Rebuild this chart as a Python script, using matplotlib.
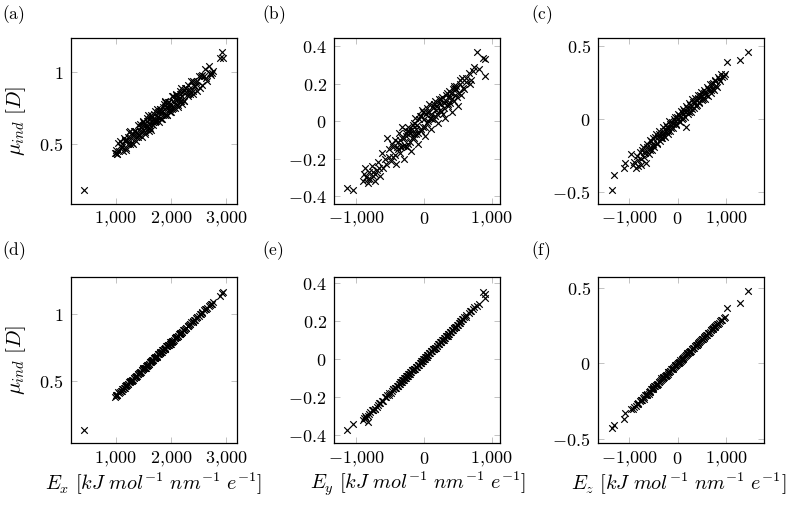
import matplotlib
matplotlib.use('Agg')
import matplotlib.pyplot as plt
from matplotlib.ticker import FixedLocator, FixedFormatter

plt.rcParams['mathtext.fontset'] = 'cm'
plt.rcParams['font.family'] = 'serif'
plt.rcParams['font.size'] = 13

# field components (shared by the top and bottom row)
E_x = [430,
       985, 1000, 1005, 1020, 1045, 1060, 1090, 1110, 1135, 1150,
       1170, 1185, 1205, 1220, 1240, 1255, 1275, 1290, 1310, 1325,
       1345, 1360, 1380, 1395, 1410, 1430, 1445, 1460, 1480, 1495,
       1510, 1525, 1540, 1555, 1570, 1585, 1600, 1615, 1630, 1645,
       1660, 1675, 1690, 1705, 1720, 1735, 1750, 1765, 1780, 1795,
       1810, 1825, 1840, 1855, 1870, 1885, 1900, 1915, 1930, 1945,
       1960, 1975, 1990, 2005, 2020, 2035, 2050, 2065, 2080, 2095,
       2110, 2125, 2140, 2155, 2170, 2185, 2200, 2220, 2240, 2260,
       2280, 2300, 2320, 2345, 2370, 2395, 2420, 2450, 2480, 2510,
       2540, 2570, 2600, 2640, 2680, 2720, 2760, 2880, 2920, 2945,
       1030, 1075, 1120, 1160, 1195, 1230, 1265, 1300, 1335, 1370,
       1405, 1440, 1470, 1500, 1530, 1560, 1590, 1620, 1650, 1680,
       1710, 1740, 1770, 1800, 1830, 1860, 1890, 1920, 1950, 1980,
       2010, 2040, 2070, 2100, 2130, 2160, 2190, 2230, 2270, 2310,
       2350, 2390, 2430, 2470, 2520, 2560, 2620, 2660, 2700, 2740,
       1500, 1600, 1700, 1800, 1900, 2000, 2100, 2200, 2300, 2400]

# (a) mu_ind, top model
mu_a = [0.183,
        0.44, 0.44, 0.46, 0.43, 0.51, 0.45, 0.48, 0.50, 0.45, 0.54,
        0.53, 0.47, 0.53, 0.50, 0.58, 0.50, 0.54, 0.56, 0.50, 0.59,
        0.59, 0.52, 0.58, 0.56, 0.63, 0.56, 0.59, 0.62, 0.55, 0.65,
        0.64, 0.58, 0.63, 0.61, 0.68, 0.61, 0.64, 0.67, 0.60, 0.70,
        0.69, 0.63, 0.68, 0.66, 0.73, 0.66, 0.69, 0.72, 0.65, 0.74,
        0.74, 0.67, 0.73, 0.70, 0.78, 0.70, 0.74, 0.76, 0.70, 0.79,
        0.79, 0.72, 0.78, 0.75, 0.83, 0.75, 0.79, 0.81, 0.75, 0.84,
        0.84, 0.77, 0.82, 0.80, 0.87, 0.80, 0.83, 0.86, 0.80, 0.89,
        0.89, 0.83, 0.88, 0.86, 0.94, 0.87, 0.90, 0.93, 0.87, 0.97,
        0.97, 0.91, 0.97, 0.96, 1.04, 0.98, 1.01, 1.10, 1.14, 1.10,
        0.43, 0.52, 0.48, 0.52, 0.46, 0.55, 0.59, 0.51, 0.56, 0.55,
        0.55, 0.64, 0.59, 0.63, 0.57, 0.66, 0.70, 0.61, 0.66, 0.65,
        0.65, 0.74, 0.69, 0.73, 0.67, 0.76, 0.80, 0.70, 0.75, 0.74,
        0.74, 0.83, 0.78, 0.82, 0.76, 0.85, 0.89, 0.80, 0.86, 0.85,
        0.85, 0.94, 0.90, 0.94, 0.89, 0.98, 1.02, 0.94, 0.99, 0.99,
        0.66, 0.59, 0.71, 0.68, 0.79, 0.72, 0.85, 0.78, 0.91, 0.85]

# (d) mu_ind, bottom model
mu_d = [0.133,
        0.38, 0.39, 0.40, 0.40, 0.42, 0.41, 0.43, 0.43, 0.44, 0.45,
        0.46, 0.46, 0.47, 0.48, 0.49, 0.49, 0.50, 0.50, 0.51, 0.52,
        0.53, 0.53, 0.54, 0.55, 0.55, 0.56, 0.57, 0.57, 0.58, 0.59,
        0.60, 0.60, 0.60, 0.61, 0.62, 0.62, 0.63, 0.64, 0.64, 0.65,
        0.66, 0.66, 0.67, 0.67, 0.68, 0.68, 0.69, 0.70, 0.70, 0.71,
        0.71, 0.72, 0.73, 0.73, 0.74, 0.74, 0.75, 0.76, 0.76, 0.77,
        0.77, 0.78, 0.79, 0.79, 0.80, 0.80, 0.81, 0.82, 0.82, 0.83,
        0.83, 0.84, 0.85, 0.85, 0.86, 0.86, 0.87, 0.88, 0.88, 0.89,
        0.90, 0.91, 0.92, 0.93, 0.94, 0.94, 0.96, 0.97, 0.98, 0.99,
        1.00, 1.02, 1.03, 1.04, 1.06, 1.08, 1.09, 1.14, 1.16, 1.17,
        0.40, 0.42, 0.44, 0.45, 0.47, 0.48, 0.50, 0.51, 0.52, 0.54,
        0.55, 0.56, 0.58, 0.59, 0.60, 0.61, 0.62, 0.64, 0.65, 0.66,
        0.67, 0.68, 0.70, 0.71, 0.72, 0.73, 0.74, 0.76, 0.77, 0.78,
        0.79, 0.80, 0.82, 0.83, 0.84, 0.85, 0.86, 0.88, 0.90, 0.91,
        0.93, 0.94, 0.96, 0.98, 1.00, 1.01, 1.04, 1.05, 1.07, 1.08,
        0.60, 0.63, 0.67, 0.72, 0.75, 0.78, 0.83, 0.87, 0.91, 0.95]

E_y = [-1130, -1050, -900, -870, -850, -830, -810, -790, -770, -750,
       -730, -700, -680, -650, -620, -600, -570, -540, -510, -490,
       -470, -450, -430, -410, -390, -370, -350, -330, -310, -290,
       -270, -250, -230, -210, -190, -170, -150, -130, -110, -90,
       -70, -50, -30, -10, 10, 30, 50, 70, 90, 110,
       130, 150, 170, 190, 210, 230, 250, 270, 290, 310,
       330, 350, 370, 390, 410, 430, 450, 470, 490, 510,
       530, 550, 570, 600, 630, 660, 700, 740, 790, 820,
       880, 900, 905,
       -300, -200, -100, 0, 100, 200, 300, -250, -150, -50,
       50, 150, 250, 350, 400, 450, -350, -400,
       -880, -820, -760, -720, -660, -560, -520, -460, -420, -380,
       -340, -320, -280, -260, -240, -220, -180, -160, -140, -120,
       -80, -60, -40, -20, 20, 40, 60, 80, 120, 140,
       160, 180, 220, 240, 260, 280, 320, 340, 360, 380,
       420, 440, 460, 480, 520, 540, 580, 620, 680, 720]

mu_b = [-0.355, -0.365, -0.32, -0.25, -0.30, -0.33, -0.27, -0.31, -0.24, -0.29,
        -0.32, -0.26, -0.22, -0.29, -0.17, -0.25, -0.20, -0.09, -0.15, -0.21,
        -0.12, -0.19, -0.10, -0.23, -0.15, -0.06, -0.17, -0.03, -0.13, -0.20,
        -0.08, -0.14, -0.03, -0.11, -0.16, -0.04, -0.09, 0.02, -0.07, -0.12,
        0.01, -0.05, 0.06, -0.03, -0.08, 0.04, -0.01, 0.09, 0.02, -0.04,
        0.07, 0.01, 0.11, 0.04, -0.01, 0.10, 0.05, 0.13, 0.07, 0.02,
        0.14, 0.08, 0.16, 0.10, 0.05, 0.17, 0.11, 0.19, 0.13, 0.08,
        0.20, 0.14, 0.23, 0.17, 0.21, 0.26, 0.22, 0.29, 0.37, 0.28,
        0.34, 0.33, 0.24,
        -0.09, -0.06, -0.02, 0.01, 0.04, 0.08, 0.10, -0.05, -0.01, 0.03,
        0.05, 0.09, 0.12, 0.13, 0.15, 0.18, -0.10, -0.14,
        -0.28, -0.31, -0.27, -0.28, -0.25, -0.23, -0.19, -0.14, -0.18, -0.11,
        -0.14, -0.09, -0.13, -0.06, -0.12, -0.05, -0.09, -0.02, -0.07, -0.04,
        -0.06, 0.03, -0.04, 0.05, -0.03, 0.07, 0.00, 0.05, 0.01, 0.08,
        0.03, 0.06, 0.12, 0.06, 0.09, 0.04, 0.11, 0.15, 0.09, 0.13,
        0.12, 0.19, 0.14, 0.17, 0.15, 0.22, 0.18, 0.23, 0.20, 0.27]

mu_e = [-0.37, -0.34, -0.32, -0.30, -0.31, -0.33, -0.29, -0.28, -0.27, -0.27,
        -0.26, -0.25, -0.24, -0.23, -0.22, -0.22, -0.20, -0.19, -0.18, -0.18,
        -0.17, -0.16, -0.15, -0.15, -0.14, -0.13, -0.13, -0.12, -0.11, -0.10,
        -0.10, -0.09, -0.08, -0.08, -0.07, -0.06, -0.05, -0.05, -0.04, -0.03,
        -0.03, -0.02, -0.01, 0.00, 0.00, 0.01, 0.02, 0.03, 0.03, 0.04,
        0.05, 0.05, 0.06, 0.07, 0.08, 0.08, 0.09, 0.10, 0.10, 0.11,
        0.12, 0.13, 0.13, 0.14, 0.15, 0.15, 0.16, 0.17, 0.18, 0.18,
        0.19, 0.20, 0.21, 0.22, 0.23, 0.24, 0.25, 0.27, 0.28, 0.29,
        0.35, 0.34, 0.32,
        -0.11, -0.07, -0.04, 0.00, 0.04, 0.07, 0.11, -0.09, -0.05, -0.02,
        0.02, 0.05, 0.09, 0.12, 0.14, 0.16, -0.12, -0.14,
        -0.31, -0.30, -0.27, -0.26, -0.23, -0.20, -0.19, -0.16, -0.15, -0.14,
        -0.12, -0.11, -0.10, -0.09, -0.09, -0.08, -0.06, -0.06, -0.05, -0.04,
        -0.03, -0.02, -0.01, -0.01, 0.01, 0.01, 0.02, 0.03, 0.04, 0.05,
        0.06, 0.06, 0.08, 0.09, 0.09, 0.10, 0.12, 0.12, 0.13, 0.14,
        0.15, 0.16, 0.17, 0.17, 0.19, 0.20, 0.21, 0.22, 0.25, 0.26]

E_z = [-1360, -1310, -1100, -1090, -960, -900, -870, -840, -810, -780,
       -750, -720, -690, -660, -630, -600, -570, -540, -510, -480,
       -450, -420, -390, -360, -330, -300, -270, -240, -210, -180,
       -150, -120, -90, -60, -30, 0, 30, 60, 90, 120,
       150, 180, 210, 240, 270, 300, 330, 360, 390, 420,
       450, 480, 510, 540, 570, 600, 630, 660, 690, 720,
       750, 780, 810, 850, 900, 950, 1020, 1280, 1450,
       -700, -500, -400, -350, -250, -200, -100, -50, 50, 100,
       200, 250, 350, 400, 500, 550, 650, -600, -300, 0,
       -930, -820, -760, -730, -670, -640, -580, -550, -520, -460,
       -430, -380, -340, -310, -280, -230, -190, -160, -130, -80,
       -40, -20, 20, 40, 80, 110, 140, 170, 190, 230,
       260, 290, 320, 370, 410, 440, 470, 520, 560, 590,
       620, 680, 710, 740, 770, 800, 830, 870, 920, 980]

mu_c = [-0.48, -0.38, -0.33, -0.30, -0.24, -0.29, -0.33, -0.25, -0.32, -0.22,
        -0.31, -0.19, -0.26, -0.30, -0.17, -0.24, -0.14, -0.21, -0.13, -0.19,
        -0.10, -0.17, -0.08, -0.15, -0.13, -0.05, -0.12, -0.04, -0.10, -0.01,
        -0.08, -0.02, -0.06, 0.02, -0.04, 0.04, -0.01, 0.06, 0.00, 0.07,
        0.02, 0.09, 0.04, 0.11, 0.05, 0.14, 0.08, 0.15, 0.10, 0.17,
        0.11, 0.19, 0.13, 0.20, 0.14, 0.22, 0.16, 0.24, 0.18, 0.25,
        0.20, 0.26, 0.22, 0.28, 0.31, 0.30, 0.395, 0.41, 0.46,
        -0.22, -0.17, -0.12, -0.11, -0.08, -0.06, -0.03, -0.01, 0.02, 0.04,
        0.06, 0.08, 0.12, 0.13, 0.16, 0.18, 0.20, -0.20, -0.09, 0.00,
        -0.31, -0.28, -0.27, -0.21, -0.23, -0.19, -0.21, -0.15, -0.18, -0.12,
        -0.16, -0.10, -0.13, -0.08, -0.11, -0.05, -0.08, -0.03, -0.06, 0.00,
        -0.03, 0.02, 0.03, -0.02, 0.05, 0.01, 0.06, -0.05, 0.08, 0.05,
        0.10, 0.07, 0.12, 0.09, 0.15, 0.12, 0.17, 0.14, 0.19, 0.17,
        0.21, 0.20, 0.24, 0.21, 0.27, 0.23, 0.29, 0.26, 0.29, 0.31]

mu_f = [-0.43, -0.41, -0.37, -0.33, -0.30, -0.29, -0.28, -0.27, -0.26, -0.25,
        -0.24, -0.23, -0.22, -0.21, -0.20, -0.19, -0.18, -0.17, -0.16, -0.15,
        -0.14, -0.135, -0.125, -0.115, -0.105, -0.095, -0.085, -0.077, -0.067, -0.058,
        -0.048, -0.038, -0.029, -0.019, -0.010, 0.0, 0.010, 0.019, 0.029, 0.038,
        0.048, 0.058, 0.067, 0.077, 0.086, 0.096, 0.106, 0.115, 0.125, 0.134,
        0.144, 0.154, 0.163, 0.173, 0.182, 0.192, 0.202, 0.211, 0.221, 0.230,
        0.240, 0.250, 0.26, 0.27, 0.29, 0.30, 0.37, 0.40, 0.48,
        -0.235, -0.155, -0.135, -0.10, -0.085, -0.06, -0.035, -0.012, 0.02, 0.03,
        0.068, 0.077, 0.118, 0.125, 0.165, 0.17, 0.205, -0.20, -0.09, 0.005,
        -0.30, -0.27, -0.24, -0.24, -0.21, -0.21, -0.19, -0.17, -0.17, -0.15,
        -0.14, -0.12, -0.11, -0.10, -0.09, -0.075, -0.06, -0.05, -0.04, -0.025,
        -0.013, -0.006, 0.006, 0.013, 0.026, 0.035, 0.045, 0.054, 0.061, 0.074,
        0.083, 0.093, 0.10, 0.12, 0.13, 0.14, 0.15, 0.165, 0.18, 0.19,
        0.20, 0.22, 0.23, 0.235, 0.245, 0.255, 0.265, 0.28, 0.29, 0.31]

panel_tags = ['(a)', '(b)', '(c)', '(d)', '(e)', '(f)']

x_ticks = {'x': [1000, 2000, 3000], 'y': [-1000, 0, 1000], 'z': [-1000, 0, 1000]}
x_tick_labels = {'x': ['1,000', '2,000', '3,000'],
                 'y': ['-1,000', '0', '1,000'],
                 'z': ['-1,000', '0', '1,000']}
x_lims = {'x': (185, 3190), 'y': (-1325, 1130), 'z': (-1640, 1790)}


def mlab(s):
    return '$' + s.replace(',', '{,}') + '$'


W, H = 790, 508
fig = plt.figure(figsize=(W / 100, H / 100), dpi=100)

panels = [
    ('x', E_x, mu_a, [0.5, 1], ['0.5', '1'], (0.085, 1.238)),
    ('y', E_y, mu_b, [-0.4, -0.2, 0, 0.2, 0.4], ['-0.4', '-0.2', '0', '0.2', '0.4'], (-0.44, 0.446)),
    ('z', E_z, mu_c, [-0.5, 0, 0.5], ['-0.5', '0', '0.5'], (-0.577, 0.56)),
    ('x', E_x, mu_d, [0.5, 1], ['0.5', '1'], (0.035, 1.277)),
    ('y', E_y, mu_e, [-0.4, -0.2, 0, 0.2, 0.4], ['-0.4', '-0.2', '0', '0.2', '0.4'], (-0.442, 0.428)),
    ('z', E_z, mu_f, [-0.5, 0, 0.5], ['-0.5', '0', '0.5'], (-0.531, 0.573)),
]

lefts = [70.7, 334.3, 598.3]
tops = [37.7, 277.3]
aw, ah = 166, 166
tag_x = [2, 262, 531]
tag_y = [15, 251]
xlab_cx = [153.5, 417.5, 679]

for i, (comp, xs, ys, yt, ytl, ylim) in enumerate(panels):
    r, c = divmod(i, 3)
    ax = fig.add_axes([lefts[c] / W, 1 - (tops[r] + ah) / H, aw / W, ah / H])
    ax.scatter(xs, ys, marker='x', s=22, c='k', linewidths=0.85, zorder=3)
    ax.set_xlim(*x_lims[comp])
    ax.set_ylim(*ylim)
    ax.xaxis.set_major_locator(FixedLocator(x_ticks[comp]))
    ax.xaxis.set_major_formatter(FixedFormatter([mlab(t) for t in x_tick_labels[comp]]))
    ax.yaxis.set_major_locator(FixedLocator(yt))
    ax.yaxis.set_major_formatter(FixedFormatter([mlab(t) for t in ytl]))
    ax.tick_params(direction='in', top=True, right=True, length=4.5, width=0.6,
                   color='#b8b8b8', labelsize=13, pad=5.5)
    ax.tick_params(axis='x', pad=4.5)
    for sp in ax.spines.values():
        sp.set_linewidth(0.9)
    fig.text(tag_x[c] / W, 1 - tag_y[r] / H, r'$\mathrm{' + panel_tags[i] + '}$',
             fontsize=12.5, va='center', ha='left')
    if c == 0:
        fig.text(16 / W, 1 - (tops[r] + ah / 2) / H, r'$\mu_{ind}\ [D]$',
                 rotation=90, fontsize=15, va='center', ha='center')
    if r == 1:
        fig.text(xlab_cx[c] / W, 1 - 490 / H,
                 r'$E_' + comp + r'\ [kJ\ mol^{-1}\ nm^{-1}\ e^{-1}]$',
                 fontsize=14.6, va='baseline', ha='center')

fig.savefig('out.png', dpi=100)
